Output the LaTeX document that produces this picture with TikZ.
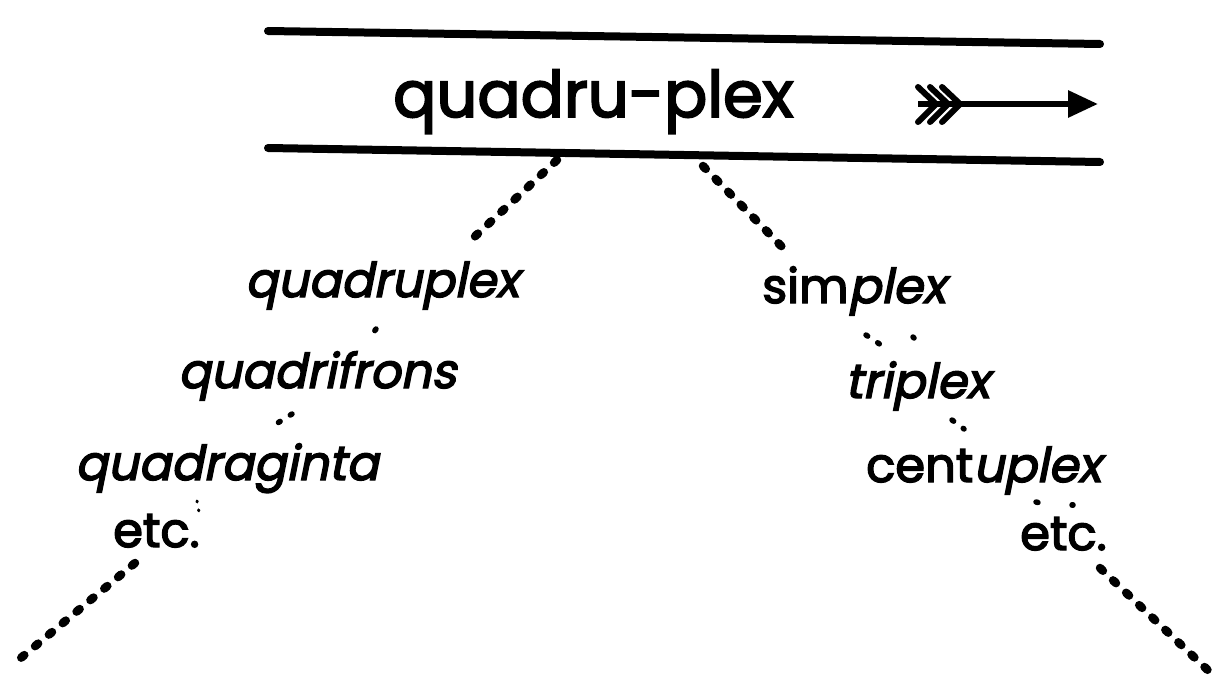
\documentclass[tikz,border=0pt]{standalone}
\usepackage{fontspec}
\setmainfont{Poppins}[FakeBold=3, ItalicFont=Poppins, ItalicFeatures={FakeSlant=0.2, FakeBold=3}]
\usetikzlibrary{arrows.meta}
\begin{document}
\begin{tikzpicture}[x=1pt,y=-1pt,
  rule/.style={line width=8pt, line cap=round},
  bigdots/.style={line width=8.5pt, line cap=round, dash pattern=on 4pt off 14pt},
  smalldots/.style={line width=5.5pt, line cap=round, dash pattern=on 2pt off 12pt},
  tinydots/.style={line width=3pt, line cap=round, dash pattern=on 1pt off 8pt},
  titletext/.style={font=\fontsize{64}{64}\selectfont, inner sep=0pt, anchor=base west},
  word/.style={font=\fontsize{48}{48}\selectfont, inner sep=0pt, anchor=base west}]
\useasboundingbox (0,0) rectangle (1214,679);
\fill[white] (0,0) rectangle (1214,679);
% title band
\coordinate (tl) at (268,31);
\coordinate (tr) at (1100,44);
\coordinate (bl) at (268,148);
\coordinate (br) at (1100,162);
\draw[rule] (tl) -- (tr);
\draw[rule] (bl) -- (br);
\node[titletext] (t) at (393,117) {quadru-plex};
% arrow
\coordinate (ar0) at (918,104);
\coordinate (ar1) at (1098,104);
\draw[line width=6pt, -{Triangle[length=30pt,width=26pt]}] (ar0) -- (ar1);
\foreach \i in {0,1,2} {
  \draw[line width=6pt, line cap=round, line join=round] ({918+12*\i},87) -- ({936+12*\i},104) -- ({918+12*\i},122);
}
% words
\node[word] (w1) at (245,297) {\textit{quadruplex}};
\node[word] (w2) at (178,388) {\textit{quadrifrons}};
\node[word] (w3) at (75,480) {\textit{quadraginta}};
\node[word] (w4) at (113,547) {etc.};
\node[word] (v1) at (762,303) {sim\textit{plex}};
\node[word] (v2) at (845,398) {\textit{triplex}};
\node[word] (v3) at (866,482) {cent\textit{uplex}};
\node[word] (v4) at (1020,550) {etc.};
% dotted connectors
\coordinate (a1) at (557,160); \coordinate (a2) at (470,241);
\draw[bigdots] (a1) -- (a2);
\coordinate (b1) at (703,166); \coordinate (b2) at (789,254);
\draw[bigdots] (b1) -- (b2);
\coordinate (c1) at (135,563); \coordinate (c2) at (16,662);
\draw[bigdots] (c1) -- (c2);
\coordinate (d1) at (1100,568); \coordinate (d2) at (1214,676);
\draw[bigdots] (d1) -- (d2);
% short links between words
\draw[smalldots] (376,329) -- (371,336);
\draw[smalldots] (292,414) -- (276,424);
\draw[tinydots] (197,501) -- (199,512);
\draw[smalldots] (866,335) -- (881,345);
\draw[smalldots] (913,337) -- (914,338);
\draw[smalldots] (952,420) -- (964,429);
\draw[smalldots] (1036,502) -- (1048,505);
\draw[smalldots] (1072,505) -- (1073,505);
\end{tikzpicture}
\end{document}
